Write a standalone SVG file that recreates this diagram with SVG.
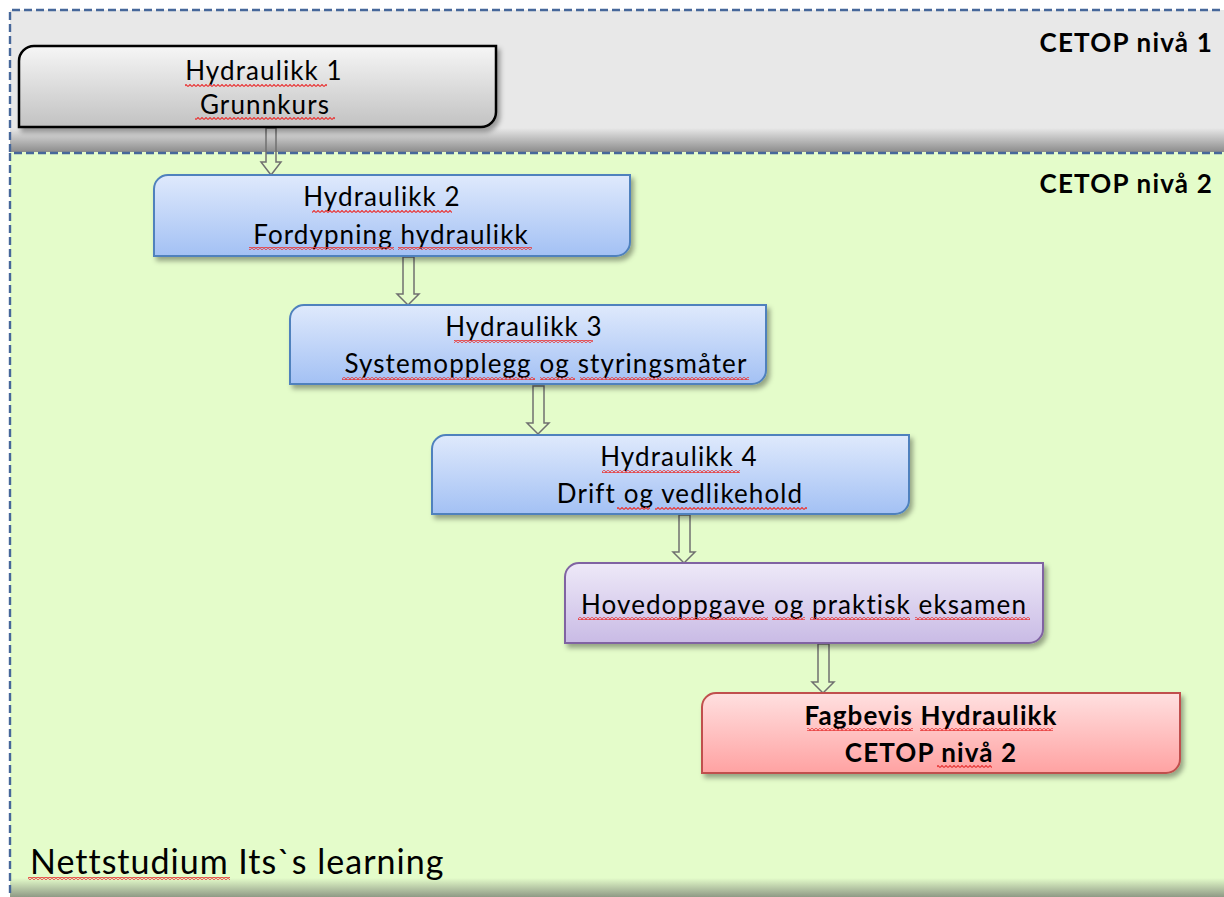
<svg xmlns="http://www.w3.org/2000/svg" width="1224" height="897" viewBox="0 0 1224 897">
<defs>
<linearGradient id="gGray" x1="0" y1="0" x2="0" y2="1"><stop offset="0" stop-color="#f6f6f6"/><stop offset="1" stop-color="#c2c2c2"/></linearGradient>
<linearGradient id="gBlue" x1="0" y1="0" x2="0" y2="1"><stop offset="0" stop-color="#dfe9fc"/><stop offset="1" stop-color="#a3c1f4"/></linearGradient>
<linearGradient id="gPurple" x1="0" y1="0" x2="0" y2="1"><stop offset="0" stop-color="#eee9f8"/><stop offset="1" stop-color="#c9bbe5"/></linearGradient>
<linearGradient id="gRed" x1="0" y1="0" x2="0" y2="1"><stop offset="0" stop-color="#ffe0e0"/><stop offset="1" stop-color="#ffa2a2"/></linearGradient>
<linearGradient id="gTopShade" x1="0" y1="0" x2="0" y2="1"><stop offset="0" stop-color="#e8e8e8"/><stop offset="1" stop-color="#8c8c8c"/></linearGradient>
<linearGradient id="gBotShade" x1="0" y1="0" x2="0" y2="1"><stop offset="0" stop-color="#e4fcca"/><stop offset="1" stop-color="#8f9a86"/></linearGradient>
<filter id="sh" x="-5%" y="-10%" width="115%" height="140%"><feDropShadow dx="3" dy="4" stdDeviation="2.5" flood-color="#000" flood-opacity="0.35"/></filter>
<pattern id="wave" x="0" y="0" width="4" height="3" patternUnits="userSpaceOnUse"><path d="M0,2.5 L2,0.5 L4,2.5" fill="none" stroke="#e83a3a" stroke-width="1.2"/></pattern>
</defs>
<style>
.t{font-family:Lato,"Liberation Sans",sans-serif;font-size:26px;letter-spacing:1.1px;fill:#000;text-anchor:middle}
.b{font-weight:bold}
.lvl{font-family:Lato,"Liberation Sans",sans-serif;font-size:26px;letter-spacing:1.2px;font-weight:bold;fill:#000;text-anchor:end}
.arrow{fill:none;stroke:#707070;stroke-width:1.5;stroke-linejoin:miter}
.region{stroke:#46679a;stroke-width:2.4;stroke-dasharray:8 4;fill:none}
.w{fill:url(#wave)}
</style>

<g id="region-level1">
<rect x="10" y="10" width="1220" height="142" fill="#e8e8e8"/>
<rect x="10" y="128" width="1220" height="24" fill="url(#gTopShade)"/>
<path class="region" d="M10,152 V10 H1230"/>
<text class="lvl" x="1213" y="52">CETOP nivå 1</text>
</g>

<g id="region-level2">
<rect x="10" y="152" width="1220" height="745" fill="#e4fcca"/>
<rect x="10" y="878" width="1220" height="19" fill="url(#gBotShade)"/>
<path class="region" d="M10,893 V153 H1230"/>
<text class="lvl" x="1213" y="193">CETOP nivå 2</text>
<text x="30" y="874" style="font-family:Lato,'Liberation Sans',sans-serif;font-size:34px;letter-spacing:1px;fill:#000">Nettstudium Its`s learning</text>
<rect class="w" x="28" y="877" width="202" height="3"/>
</g>

<g id="connectors">
<path class="arrow" d="M266,128 V162 H261 L271,175 L281,162 H276 V128 Z"/>
<path class="arrow" d="M403,257 V294 H397 L408,305 L419,294 H414 V257 Z"/>
<path class="arrow" d="M533,386 V423 H527 L538,434 L549,423 H544 V386 Z"/>
<path class="arrow" d="M679,515 V552 H673 L684,563 L695,552 H690 V515 Z"/>
<path class="arrow" d="M818,644 V682 H812 L823,693 L834,682 H829 V644 Z"/>
</g>

<g id="node-h1">
<path d="M34,46 H496 V112 A15,15 0 0 1 481,127 H19 V61 A15,15 0 0 1 34,46 Z" fill="url(#gGray)" stroke="#000" stroke-width="2.5" filter="url(#sh)"/>
<text class="t" x="264" y="80">Hydraulikk 1</text>
<text class="t" x="265" y="114">Grunnkurs</text>
<rect class="w" x="185" y="84" width="142" height="3"/>
<rect class="w" x="195" y="117" width="140" height="3"/>
</g>

<g id="node-h2">
<path d="M168,175 H630 V242 A14,14 0 0 1 616,256 H154 V189 A14,14 0 0 1 168,175 Z" fill="url(#gBlue)" stroke="#4f81bd" stroke-width="2" filter="url(#sh)"/>
<text class="t" x="382" y="206">Hydraulikk 2</text>
<text class="t" x="391" y="244">Fordypning hydraulikk</text>
<rect class="w" x="312" y="210" width="140" height="3"/>
<rect class="w" x="249" y="247" width="145" height="3"/>
<rect class="w" x="398" y="247" width="134" height="3"/>
</g>

<g id="node-h3">
<path d="M304,305 H766 V370 A14,14 0 0 1 752,384 H290 V319 A14,14 0 0 1 304,305 Z" fill="url(#gBlue)" stroke="#4f81bd" stroke-width="2" filter="url(#sh)"/>
<text class="t" x="524" y="336">Hydraulikk 3</text>
<text class="t" x="546" y="373">Systemopplegg og styringsmåter</text>
<rect class="w" x="454" y="340" width="139" height="3"/>
<rect class="w" x="342" y="377" width="193" height="3"/>
<rect class="w" x="540" y="377" width="35" height="3"/>
<rect class="w" x="580" y="377" width="169" height="3"/>
</g>

<g id="node-h4">
<path d="M446,435 H909 V500 A14,14 0 0 1 895,514 H432 V449 A14,14 0 0 1 446,435 Z" fill="url(#gBlue)" stroke="#4f81bd" stroke-width="2" filter="url(#sh)"/>
<text class="t" x="679" y="466">Hydraulikk 4</text>
<text class="t" x="680" y="503">Drift og vedlikehold</text>
<rect class="w" x="602" y="470" width="138" height="3"/>
<rect class="w" x="617" y="507" width="33" height="3"/>
<rect class="w" x="655" y="507" width="152" height="3"/>
</g>

<g id="node-hovedoppgave">
<path d="M579,563 H1043 V629 A14,14 0 0 1 1029,643 H565 V577 A14,14 0 0 1 579,563 Z" fill="url(#gPurple)" stroke="#8064a2" stroke-width="2" filter="url(#sh)"/>
<text class="t" x="804" y="614">Hovedoppgave og praktisk eksamen</text>
<rect class="w" x="578" y="617" width="190" height="3"/>
<rect class="w" x="772" y="617" width="33" height="3"/>
<rect class="w" x="810" y="617" width="100" height="3"/>
<rect class="w" x="915" y="617" width="115" height="3"/>
</g>

<g id="node-fagbevis">
<path d="M716,693 H1180 V759 A14,14 0 0 1 1166,773 H702 V707 A14,14 0 0 1 716,693 Z" fill="url(#gRed)" stroke="#c0504d" stroke-width="2" filter="url(#sh)"/>
<text class="t b" x="931" y="725">Fagbevis Hydraulikk</text>
<text class="t b" x="931" y="762">CETOP nivå 2</text>
<rect class="w" x="807" y="728" width="106" height="3"/>
<rect class="w" x="920" y="728" width="133" height="3"/>
<rect class="w" x="937" y="765" width="55" height="3"/>
</g>
</svg>
